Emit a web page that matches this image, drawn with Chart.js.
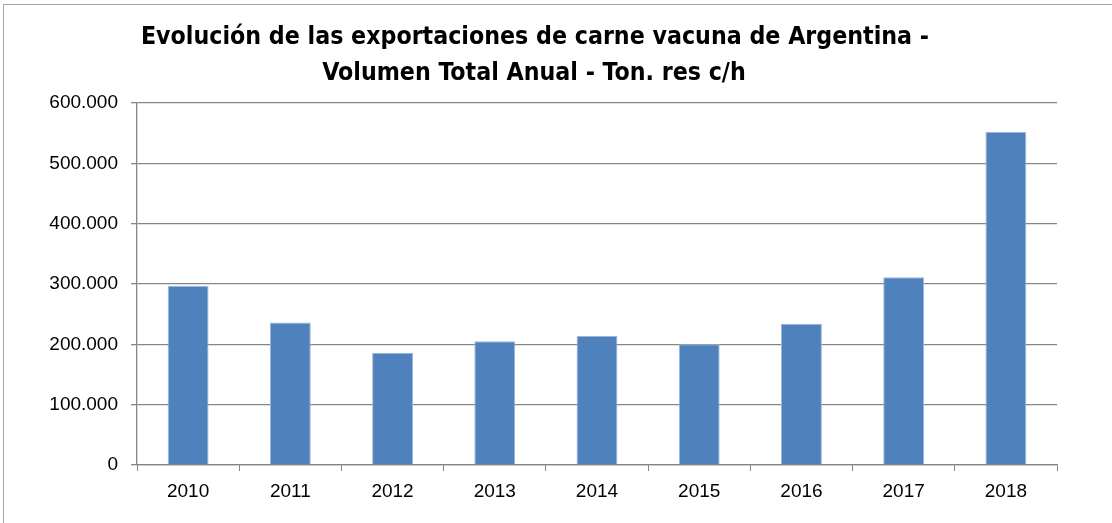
<!DOCTYPE html>
<html>
<head>
<meta charset="utf-8">
<script src="https://cdn.jsdelivr.net/npm/chart.js@4"></script>
<style>
  body { margin: 0; background: #fff; }
  #wrap { position: relative; width: 1112px; height: 523px; overflow: hidden; }
  #frame { position: absolute; left: 3px; top: 4px; right: -5px; bottom: -5px;
           border-top: 1px solid #a6a6a6; border-left: 1px solid #a6a6a6; }
  .title { position: absolute; transform: translateX(-50%); white-space: nowrap;
           font-family: "Liberation Sans Narrow", "DejaVu Sans Condensed", sans-serif;
           font-weight: bold; font-size: 24.7px; color: #000; line-height: 30px; }
</style>
</head>
<body>
<div id="wrap">
  <canvas id="myChart" width="1112" height="523"></canvas>
  <div id="frame"></div>
  <div class="title" id="t1" style="left:535px; top:21px;">Evolución de las exportaciones de carne vacuna de Argentina -</div>
  <div class="title" id="t2" style="left:534px; top:57px;">Volumen Total Anual - Ton. res c/h</div>
</div>
<script>
//chart data
const years = ["2010", "2011", "2012", "2013", "2014", "2015", "2016", "2017", "2018"];
const volumes = [297000, 236000, 186000, 205000, 214000, 200000, 234000, 311000, 552000];
const yTicks = [0, 100000, 200000, 300000, 400000, 500000, 600000];

const gridColor = "#868686";

//600000 => 600.000
function formatThousands(value) {
  return String(value).replace(/\B(?=(\d{3})+(?!\d))/g, ".");
}

function loadChart() {
  let ctx = document.getElementById("myChart").getContext("2d");
  new Chart(ctx, {
    type: "bar",
    data: {
      labels: years,
      datasets: [
        {
          label: "Volumen",
          data: volumes,
          backgroundColor: "#4F81BD",
          borderColor: "#9DB7DC",
          borderWidth: 1,
          barPercentage: 0.4,
          categoryPercentage: 1
        }
      ]
    },
    options: {
      responsive: false,
      animation: false,
      layout: { padding: { top: 103, right: 55, left: 0, bottom: 0 } },
      plugins: {
        legend: { display: false },
        tooltip: { enabled: false }
      },
      scales: {
        x: {
          offset: true,
          grid: { offset: true, drawOnChartArea: false, color: gridColor, tickLength: 6 },
          border: { color: gridColor, width: 1.3 },
          ticks: {
            color: "#000",
            padding: 9,
            font: { family: "'Liberation Sans', Arial, sans-serif", size: 19 }
          },
          afterFit: function(scale) { scale.height = 58; }
        },
        y: {
          min: 0,
          max: 600000,
          afterBuildTicks: function(scale) {
            scale.ticks = yTicks.map(v => ({ value: v }));
          },
          grid: { color: gridColor, lineWidth: 1.3, tickLength: 6 },
          border: { color: gridColor, width: 1.3 },
          ticks: {
            color: "#000",
            padding: 13,
            font: { family: "'Liberation Sans', Arial, sans-serif", size: 19 },
            callback: function(value) { return formatThousands(value); }
          },
          afterFit: function(scale) { scale.width = 137; }
        }
      }
    }
  });
}

window.onload = function() {
  loadChart();
};
</script>
</body>
</html>
